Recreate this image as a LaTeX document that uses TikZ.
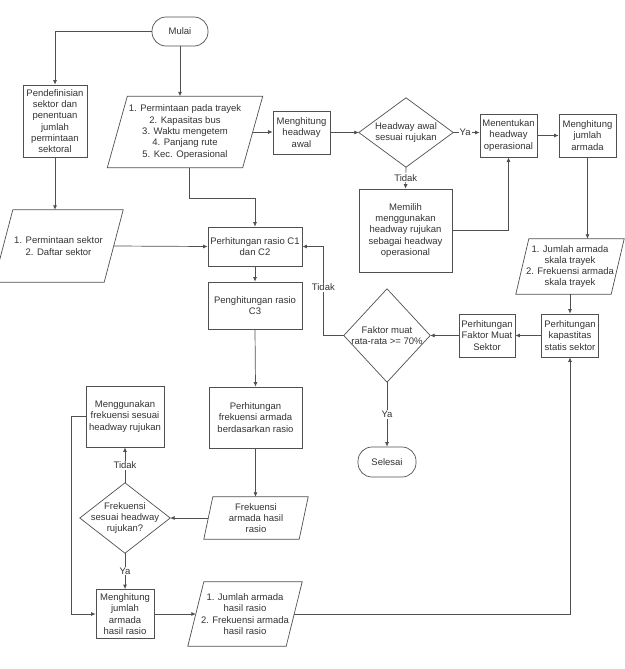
\documentclass[tikz,border=0pt]{standalone}
\usepackage{fontspec}
\setmainfont{Liberation Sans}
\usetikzlibrary{arrows.meta}
\definecolor{lc}{HTML}{505050}
\definecolor{tc}{HTML}{333333}
\begin{document}
\begin{tikzpicture}[x=1pt,y=-1pt,
  txt/.style={inner sep=0pt, align=center, text=tc, font=\fontsize{9.5}{11.3}\selectfont},
  sz/.style 2 args={minimum width=#1pt, minimum height=#2pt},
  box/.style={txt, draw=lc, line width=0.7pt},
  term/.style={box, rounded corners=14pt},
  shp/.style={txt},
  ln/.style={draw=lc, line width=0.7pt},
  arr/.style={ln, -{Latex[length=4.5pt,width=4pt]}},
  lbl/.style={txt, fill=white, inner sep=1pt}]
\useasboundingbox (0,0) rectangle (624,669);
\fill[white] (0,0) rectangle (624,669);

% nodes
\node[term, sz={56}{29}] (mulai) at (180,31.5) {Mulai};
\node[box, sz={64}{72}] (pendef) at (55,121) {Pendefinisian\\sektor dan\\penentuan\\jumlah\\permintaan\\sektoral};
\node[shp, sz={135}{71}] (pm) at (185,132) {1. Permintaan pada trayek\\2. Kapasitas bus\\3. Waktu mengetem\\4. Panjang rute\\5. Kec. Operasional};
\node[box, sz={57}{43}] (hawal) at (301.5,132.5) {Menghitung\\headway\\awal};
\node[shp, sz={94}{69}] (d1) at (406,132.5) {Headway awal\\sesuai rujukan};
\node[box, sz={57}{43}] (ment) at (508.5,135.5) {Menentukan\\headway\\operasional};
\node[box, sz={57}{43}] (mjum) at (587.5,135.5) {Menghitung\\jumlah\\armada};
\node[box, sz={93}{83}] (memilih) at (405.5,230.5) {Memilih\\menggunakan\\headway rujukan\\sebagai headway\\operasional};
\node[shp, sz={110}{72}] (p1) at (58.5,246) {1. Permintaan sektor\\2. Daftar sektor};
\node[box, sz={94}{39}] (c12) at (255,246.5) {Perhitungan rasio C1\\dan C2};
\node[box, sz={94}{47}] (c3) at (255,305.5) {Penghitungan rasio\\C3};
\node[shp, sz={95}{55}] (p2) at (570,266.5) {1. Jumlah armada\\skala trayek\\2. Frekuensi armada\\skala trayek};
\node[box, sz={57}{43}] (kap) at (570,335.5) {Perhitungan\\kapastitas\\statis sektor};
\node[box, sz={56}{43}] (fm) at (487,335.5) {Perhitungan\\Faktor Muat\\Sektor};
\node[shp, sz={86}{93}] (d2) at (387,335.5) {Faktor muat\\rata-rata >= 70\%};
\node[term, sz={58}{30}] (sel) at (387,462) {Selesai};
\node[box, sz={93}{61}] (frek) at (255.5,417.5) {Perhitungan\\frekuensi armada\\berdasarkan rasio};
\node[box, sz={78}{61}] (meng) at (125,416.5) {Menggunakan\\frekuensi sesuai\\headway rujukan};
\node[shp, sz={90}{70}] (d3) at (125,518) {Frekuensi\\sesuai headway\\rujukan?};
\node[shp, sz={95}{42}] (p3) at (256,518) {Frekuensi\\armada hasil\\rasio};
\node[box, sz={58}{49}] (mh) at (125,614) {Menghitung\\jumlah\\armada\\hasil rasio};
\node[shp, sz={98}{64}] (p4) at (245,614) {1. Jumlah armada\\hasil rasio\\2. Frekuensi armada\\hasil rasio};

% parallelogram outlines
\foreach \n/\s in {pm/10, p1/9.5, p2/6.5, p3/4.5, p4/8}
  \draw[ln] ([xshift=\s pt]\n.north west) -- ([xshift=\s pt]\n.north east)
    -- ([xshift=-\s pt]\n.south east) -- ([xshift=-\s pt]\n.south west) -- cycle;
% diamond outlines
\foreach \n in {d1, d2, d3}
  \draw[ln] (\n.north) -- (\n.east) -- (\n.south) -- (\n.west) -- cycle;

% connectors
\draw[arr] (mulai.west) -| (pendef.north);
\draw[arr] (mulai.south) -- (mulai.south |- pm.north);
\draw[arr] (pendef.south) -- (pendef.south |- p1.north);
\draw[arr] (p1.east) -- (c12.west);
\draw[arr] ([xshift=4pt]pm.south) -- ++(0,31) -| (c12.north);
\draw[arr] (pm.east) -- (pm.east -| hawal.west);
\draw[arr] (hawal.east) -- (hawal.east -| d1.west);
\draw[arr] (d1.east) -- node[lbl, pos=0.45] {Ya} (d1.east -| ment.west);
\draw[arr] (ment.east) -- (mjum.west);
\draw[arr] (d1.south) -- node[lbl] {Tidak} (memilih.north);
\draw[arr] (memilih.east) -| (ment.south);
\draw[arr] (mjum.south) -- (mjum.south |- p2.north);
\draw[arr] (p2.south) -- (kap.north);
\draw[arr] (kap.west) -- (fm.east);
\draw[arr] (fm.west) -- (d2.east);
\draw[arr] (d2.west) -| node[lbl, pos=0.77] {Tidak} ([xshift=21pt]c12.east) -- (c12.east);
\draw[arr] (d2.south) -- node[lbl] {Ya} (sel.north);
\draw[arr] (c12.south) -- (c3.north);
\draw[arr] (c3.south) -- (frek.north);
\draw[arr] (frek.south) -- (frek.south |- p3.north);
\draw[arr] (p3.west) -- (d3.east);
\draw[arr] (d3.north) -- node[lbl] {Tidak} (meng.south);
\draw[arr] (meng.west) -- ++(-14,0) |- (mh.west);
\draw[arr] (d3.south) -- node[lbl] {Ya} (mh.north);
\draw[arr] (mh.east) -- (p4.west);
\draw[arr] (p4.east) -| (kap.south);
\end{tikzpicture}
\end{document}
